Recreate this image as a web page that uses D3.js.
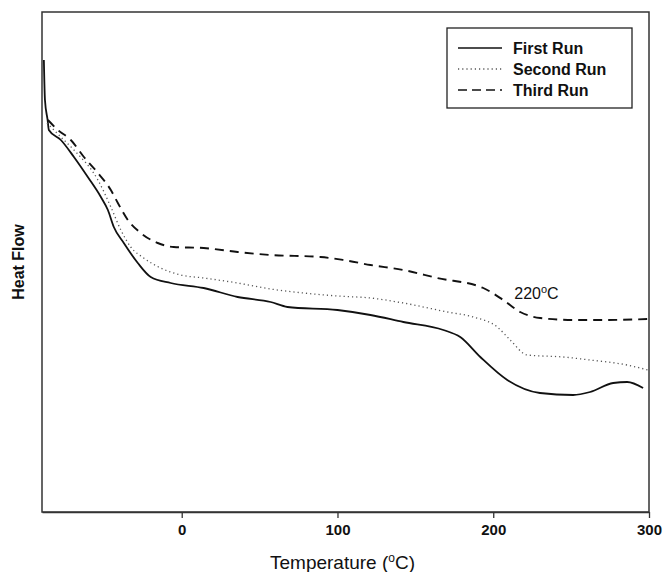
<!DOCTYPE html>
<html>
<head>
<meta charset="utf-8">
<script src="https://cdn.jsdelivr.net/npm/d3@7"></script>
<style>
  body { margin: 0; background: #fff; }
  svg { font-family: "Liberation Sans", Arial, sans-serif; }
</style>
</head>
<body>
<svg id="chart" width="665" height="572"></svg>
<script>
// Data (heat flow in arbitrary units)
const firstTemp = [-88.5, -87.8, -86.1, -85.3, -77.6, -69.2, -60.3, -51.9, -47.4, -43.6, -37.2, -28.2, -19.9, -7.1, 14.1, 35.9, 57.1, 67.9, 100, 121.2, 142.3, 168, 178.8, 191.7, 209, 230, 251.3, 262.2, 277, 286, 296.2];
const firstFlow = [90.4, 82.4, 78.4, 76.4, 74.4, 71, 67, 63, 60.4, 57, 53.8, 49.8, 47, 45.8, 44.8, 43, 42, 41, 40.4, 39.4, 38, 36.4, 35, 31, 26.4, 23.8, 23.4, 24, 25.8, 26, 24.8];

const secondTemp = [-86.5, -77.6, -69.2, -53.8, -45.5, -39.1, -32.7, -24.4, -13.5, -0.6, 14.1, 35.9, 57.1, 78.2, 100, 121.2, 142.3, 170.5, 187.2, 202.6, 210.9, 221.8, 244.9, 262.2, 285.9, 299.4];
const secondFlow = [77.8, 75, 72.4, 66.4, 61, 56.4, 53, 50.8, 48.8, 47.4, 46.8, 45.8, 44.6, 43.8, 43.2, 42.8, 41.8, 40, 39, 37, 34.4, 31.4, 31, 30.4, 29.4, 28.4];

const thirdTemp = [-85.9, -79.5, -71.2, -62.8, -53.8, -45.5, -41, -34.6, -26.3, -15.4, -5.1, 14.1, 35.9, 57.1, 89.1, 103.8, 121.2, 142.3, 164.1, 193.6, 206.4, 217.3, 230.1, 251.3, 273.1, 299.4];
const thirdFlow = [78.4, 76.4, 74.4, 71, 67.8, 64.4, 61.8, 58.4, 55.8, 53.8, 53, 52.8, 52, 51.4, 51, 50.4, 49.4, 48.4, 46.8, 44.8, 42.4, 40, 38.8, 38.4, 38.4, 38.6];

const xTicks = [0, 100, 200, 300];
const seriesNames = ['First Run', 'Second Run', 'Third Run'];

const svg = d3.select('#chart');
const margin = { left: 42, right: 16, top: 12, bottom: 60 };
const width = 665 - margin.left - margin.right;
const height = 572 - margin.top - margin.bottom;

const g = svg.append('g').attr('transform', `translate(${margin.left},${margin.top})`);

const x = d3.scaleLinear().domain([-89.7, 300]).range([0, width]);
const y = d3.scaleLinear().domain([0, 100]).range([height, 0]);

// frame
g.append('rect')
  .attr('width', width)
  .attr('height', height)
  .attr('fill', 'none')
  .attr('stroke', '#333')
  .attr('stroke-width', 1.5);

// x axis
const xAxis = g.append('g')
  .attr('transform', `translate(0,${height})`)
  .call(d3.axisBottom(x).tickValues(xTicks).tickSize(6).tickSizeOuter(0).tickPadding(6).tickFormat(d3.format('d')));
xAxis.select('.domain').attr('stroke', '#333').attr('stroke-width', 1.5);
xAxis.selectAll('.tick line').attr('stroke', '#333').attr('stroke-width', 1.3);
xAxis.selectAll('.tick text')
  .attr('fill', '#111')
  .style('font-size', '15px')
  .style('font-weight', 'bold');

// axis titles
const xTitle = svg.append('text')
  .attr('x', margin.left + width / 2 - 3)
  .attr('y', 569)
  .attr('text-anchor', 'middle')
  .style('font-size', '19px')
  .attr('fill', '#111');
xTitle.append('tspan').text('Temperature (');
xTitle.append('tspan').attr('dy', -7).style('font-size', '12px').text('o');
xTitle.append('tspan').attr('dy', 7).text('C)');

svg.append('text')
  .attr('transform', 'rotate(-90)')
  .attr('x', -262)
  .attr('y', 24)
  .attr('text-anchor', 'middle')
  .style('font-size', '16px')
  .style('font-weight', 'bold')
  .attr('fill', '#111')
  .text('Heat Flow');

// curves
const line = d3.line()
  .x((d) => x(d[0]))
  .y((d) => y(d[1]))
  .curve(d3.curveMonotoneX);

const styles = [
  { dash: null, stroke: '#111', w: 1.8 },
  { dash: '1.2,3', stroke: '#555', w: 1.3 },
  { dash: '9,6', stroke: '#111', w: 1.9 },
];

const series = [
  d3.zip(firstTemp, firstFlow),
  d3.zip(secondTemp, secondFlow),
  d3.zip(thirdTemp, thirdFlow),
];

series.forEach((pts, i) => {
  g.append('path')
    .datum(pts)
    .attr('fill', 'none')
    .attr('stroke', styles[i].stroke)
    .attr('stroke-width', styles[i].w)
    .attr('stroke-dasharray', styles[i].dash)
    .attr('d', line);
});

// annotation
const ann = g.append('text')
  .attr('x', x(213.5))
  .attr('y', y(42.6))
  .style('font-size', '16px')
  .attr('fill', '#111');
ann.append('tspan').text('220');
ann.append('tspan').attr('dy', -6).style('font-size', '11px').text('o');
ann.append('tspan').attr('dy', 6).text('C');

// legend
const legend = svg.append('g').attr('transform', 'translate(447,28)');
legend.append('rect')
  .attr('width', 185)
  .attr('height', 80)
  .attr('fill', '#fff')
  .attr('stroke', '#222')
  .attr('stroke-width', 1.3);

seriesNames.forEach((name, i) => {
  const ly = 20 + i * 21;
  legend.append('line')
    .attr('x1', 11).attr('x2', 55)
    .attr('y1', ly).attr('y2', ly)
    .attr('stroke', styles[i].stroke)
    .attr('stroke-width', i === 1 ? 1.3 : 1.6)
    .attr('stroke-dasharray', i === 2 ? '9,5' : styles[i].dash);
  legend.append('text')
    .attr('x', 66)
    .attr('y', ly + 6)
    .style('font-size', '16px')
    .style('font-weight', 'bold')
    .attr('fill', '#111')
    .text(name);
});
</script>
</body>
</html>
